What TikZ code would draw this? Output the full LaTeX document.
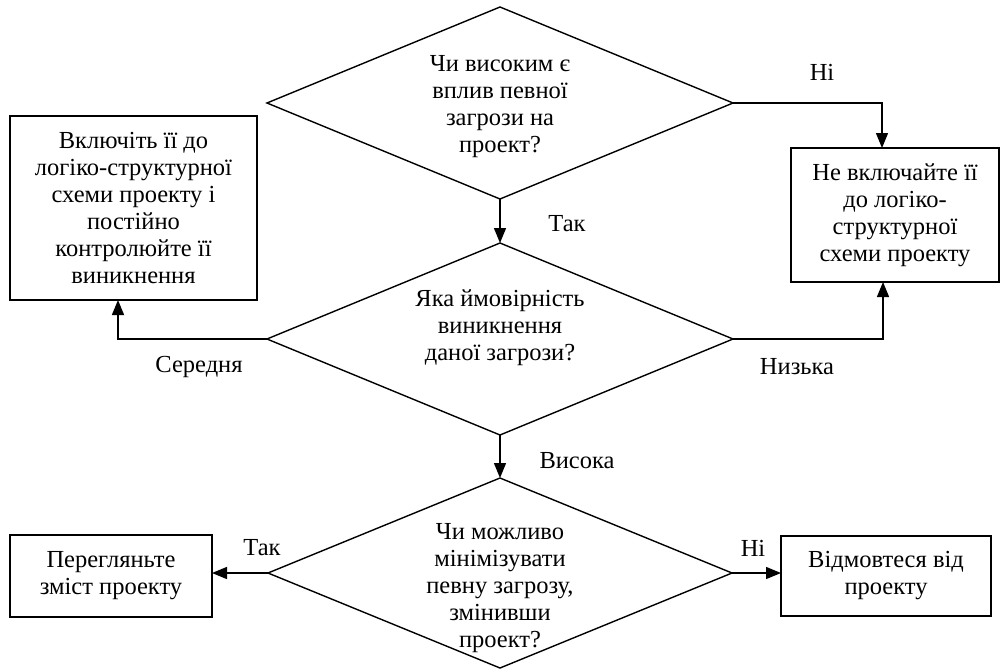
\documentclass[tikz,border=0pt]{standalone}
\usepackage{fontspec}
\setmainfont{Liberation Serif}
\usetikzlibrary{shapes.geometric,arrows.meta}
\begin{document}
\begin{tikzpicture}[x=1pt,y=-1pt,
  every node/.style={font=\fontsize{24.5pt}{27pt}\selectfont},
  dia/.style={diamond,draw,line width=1.4pt,inner sep=0pt,outer sep=0pt},
  txt/.style={align=center,inner sep=0pt},
  box/.style={draw,line width=1.4pt,align=center,inner sep=0pt,outer sep=0pt},
  lbl/.style={inner sep=0pt},
  arr/.style={line width=1.4pt,-{Triangle[length=15pt,width=12pt]}}]
\useasboundingbox (0,0) rectangle (1001,670);
% diamonds
\node[dia,minimum width=466pt,minimum height=192pt] (d1) at (500,103) {};
\node[txt] (t1) at (500,107) {Чи високим є\\вплив певної\\загрози на\\проект?};
\node[dia,minimum width=466pt,minimum height=192pt] (d2) at (500,339) {};
\node[txt] (t2) at (500,328) {Яка ймовірність\\виникнення\\даної загрози?};
\node[dia,minimum width=464pt,minimum height=190pt] (d3) at (500,573) {};
\node[txt] (t3) at (500,588) {Чи можливо\\мінімізувати\\певну загрозу,\\змінивши\\проект?};
% boxes
\node[box,minimum width=247pt,minimum height=184pt] (l1) at (133.5,208) {Включіть її до\\логіко-структурної\\схеми проекту і\\постійно\\контролюйте її\\виникнення};
\node[box,minimum width=208pt,minimum height=134pt] (r1) at (895,215) {Не включайте її\\до логіко-\\структурної\\схеми проекту};
\node[box,minimum width=202pt,minimum height=82pt] (l2) at (111,576) {Перегляньте\\зміст проекту};
\node[box,minimum width=210pt,minimum height=80pt] (r2) at (886,576) {Відмовтеся від\\проекту};
% connectors
\draw[arr] (d1.east) -| ([xshift=-13pt]r1.north);
\draw[arr] (d1.south) -- (d2.north);
\draw[arr] (d2.west) -| ([xshift=-15.5pt]l1.south);
\draw[arr] (d2.east) -| ([xshift=-12pt]r1.south);
\draw[arr] (d2.south) -- (d3.north);
\draw[arr] (d3.west) -- (d3.west -| l2.east);
\draw[arr] (d3.east) -- (d3.east -| r2.west);
% labels
\node[lbl] (n1) at (822,72) {Ні};
\node[lbl] (n2) at (567,224) {Так};
\node[lbl] (n3) at (199,367) {Середня};
\node[lbl] (n4) at (797,367) {Низька};
\node[lbl] (n5) at (577,461) {Висока};
\node[lbl] (n6) at (262,548) {Так};
\node[lbl] (n7) at (753,548) {Ні};
\end{tikzpicture}
\end{document}
